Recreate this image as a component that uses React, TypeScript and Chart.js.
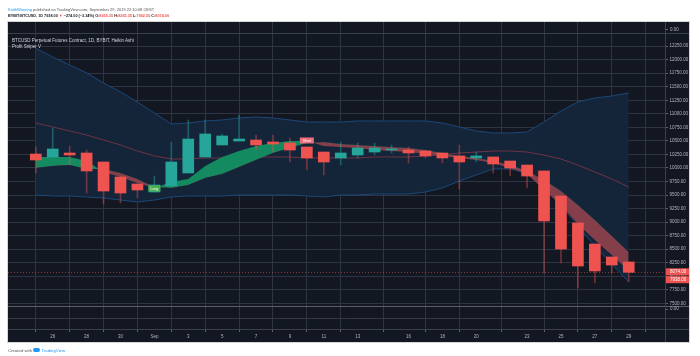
import React, { useEffect, useRef } from 'react';
import { Chart, registerables } from 'chart.js';

Chart.register(...registerables);

// ---- data (daily Heikin Ashi candles, BYBIT:BTCUSD) ----
const dates = [
  'Aug 25', 'Aug 26', 'Aug 27', 'Aug 28', 'Aug 29', 'Aug 30', 'Aug 31',
  'Sep 1', 'Sep 2', 'Sep 3', 'Sep 4', 'Sep 5', 'Sep 6', 'Sep 7', 'Sep 8',
  'Sep 9', 'Sep 10', 'Sep 11', 'Sep 12', 'Sep 13', 'Sep 14', 'Sep 15',
  'Sep 16', 'Sep 17', 'Sep 18', 'Sep 19', 'Sep 20', 'Sep 21', 'Sep 22',
  'Sep 23', 'Sep 24', 'Sep 25', 'Sep 26', 'Sep 27', 'Sep 28', 'Sep 29',
];
const opens = [
  10258, 10203, 10277, 10277, 10111, 9834, 9705, 9557, 9668, 9908, 10203, 10425,
  10498, 10517, 10480, 10462, 10388, 10295, 10185, 10240, 10295, 10332, 10332, 10314,
  10277, 10222, 10185, 10203, 10129, 10055, 9945, 9483, 8985, 8597, 8357, 8265.35,
];
const highs = [
  10388, 10738, 10406, 10332, 10111, 9834, 9705, 9852, 10480, 10886, 10886, 10628,
  10978, 10609, 10609, 10554, 10388, 10295, 10480, 10462, 10462, 10425, 10388, 10314,
  10277, 10425, 10295, 10203, 10129, 10055, 9945, 9483, 8985, 8597, 8357, 8265.35,
];
const lows = [
  9908, 10203, 10055, 9538, 9335, 9354, 9446, 9557, 9668, 9908, 10203, 10425,
  10498, 10332, 10295, 10111, 9963, 9871, 10055, 10185, 10240, 10277, 10092, 10185,
  10092, 9612, 10111, 9908, 9852, 9631, 8062, 8246, 7785, 7877, 8062, 7902.5,
];
const closes = [
  10148, 10351, 10240, 9945, 9575, 9538, 9594, 9686, 10111, 10535, 10628, 10591,
  10535, 10425, 10443, 10332, 10185, 10111, 10277, 10369, 10369, 10351, 10277, 10222,
  10185, 10111, 10222, 10074, 10000, 9852, 9022, 8505, 8191, 8099, 8209, 8074,
];
const bbUpper = [
  12210, 12049, 11901, 11754, 11569, 11403, 11218, 11015, 10812, 10831, 10868, 10886,
  10923, 10941, 10923, 10886, 10849, 10849, 10849, 10868, 10868, 10868, 10868, 10868,
  10831, 10757, 10683, 10646, 10646, 10665, 10849, 11052, 11218, 11292, 11329, 11385,
];
const bbBasis = [
  10831, 10757, 10683, 10609, 10517, 10425, 10314, 10222, 10166, 10166, 10185, 10185,
  10203, 10203, 10203, 10203, 10185, 10185, 10185, 10185, 10203, 10203, 10203, 10222,
  10240, 10277, 10295, 10314, 10314, 10295, 10240, 10166, 10055, 9926, 9797, 9649,
];
const bbLower = [
  9502, 9483, 9483, 9465, 9446, 9409, 9372, 9409, 9465, 9483, 9483, 9483,
  9502, 9502, 9502, 9502, 9483, 9465, 9502, 9502, 9520, 9520, 9520, 9557,
  9631, 9760, 9871, 9982, 9982, 9908, 9631, 9317, 8929, 8560, 8228, 7896,
];
const sniperFast = [
  10203, 10203, 10203, 10129, 9926, 9834, 9723, 9631, 9742, 9797, 10037, 10203,
  10314, 10406, 10462, 10498, 10498, 10406, 10388, 10369, 10332, 10314, 10295, 10258,
  10222, 10185, 10148, 10092, 10000, 9889, 9594, 9317, 8966, 8671, 8394, 8099,
];
const sniperSlow = [
  10000, 10037, 10055, 9982, 9982, 9908, 9797, 9649, 9631, 9686, 9815, 9889,
  10018, 10148, 10277, 10369, 10462, 10480, 10443, 10425, 10406, 10388, 10369, 10332,
  10277, 10222, 10185, 10129, 10055, 9945, 9778, 9575, 9317, 9040, 8745, 8449,
];
const tickDays = [1, 3, 5, 7, 9, 11, 13, 15, 17, 19, 22, 24, 26, 29, 31, 33, 35];
const tickLabels = ['26', '28', '30', 'Sep', '3', '5', '7', '9', '11', '13', '16', '18', '20', '23', '25', '27', '29'];
const priceTicks = [7500, 7750, 8000, 8250, 8500, 8750, 9000, 9250, 9500, 9750, 10000, 10250, 10500, 10750, 11000, 11250, 11500, 11750, 12000, 12250];
const lastClose = 8074.0;
const lastPrice = 7938.0;
const longDay = 7;
const shortDay = 16;

const FONT = 'Liberation Sans, Arial, sans-serif';
const RED = '#ef5350';
const TEAL = '#26a69a';
const BG = '#131722';
const GRID = '#2f3442';

const tvPlugin = {
  id: 'tvDecor',
  beforeDraw(chart: any) {
    const { ctx } = chart;
    ctx.save();
    ctx.fillStyle = '#ffffff';
    ctx.fillRect(0, 0, chart.width, chart.height);
    ctx.fillStyle = BG;
    ctx.fillRect(8, 22, 681, 320);
    ctx.restore();
  },
  beforeDatasetsDraw(chart: any) {
    const { ctx, chartArea, scales } = chart;
    const y = Math.round(scales.y.getPixelForValue(lastClose)) + 0.5;
    ctx.save();
    ctx.strokeStyle = 'rgba(239,83,80,0.5)';
    ctx.lineWidth = 1;
    ctx.setLineDash([1, 2]);
    ctx.beginPath();
    ctx.moveTo(chartArea.left, y);
    ctx.lineTo(chartArea.right, y);
    ctx.stroke();
    ctx.restore();
  },
  afterDatasetsDraw(chart: any) {
    const { ctx, scales } = chart;
    ctx.save();
    ctx.font = `3.4px ${FONT}`;
    ctx.textAlign = 'center';
    ctx.textBaseline = 'middle';
    // Long label
    let x = scales.x.getPixelForValue(longDay);
    let y = scales.y.getPixelForValue(lows[longDay]) - 3.5;
    ctx.fillStyle = '#4caf50';
    ctx.fillRect(x - 6, y - 3, 12, 6);
    ctx.fillStyle = '#ffffff';
    ctx.fillText('Long', x, y + 0.3);
    // Short label
    x = scales.x.getPixelForValue(shortDay);
    y = scales.y.getPixelForValue(highs[shortDay]) - 6.5;
    ctx.fillStyle = '#ee6e7c';
    ctx.fillRect(x - 7, y - 3, 14, 6);
    ctx.fillStyle = '#ffffff';
    ctx.fillText('Short', x, y + 0.3);
    ctx.restore();
  },
  afterDraw(chart: any) {
    const { ctx, chartArea, scales } = chart;
    ctx.save();
    ctx.lineWidth = 1;
    const hline = (yy: number, color: string, x2 = 689) => {
      ctx.strokeStyle = color;
      ctx.beginPath();
      ctx.moveTo(8, yy);
      ctx.lineTo(x2, yy);
      ctx.stroke();
    };
    hline(33.5, '#3a3f4d');
    hline(306.5, '#5a5e69');
    hline(318.5, '#363a47');
    hline(329.5, '#3a3f4d');
    // price axis separator
    ctx.strokeStyle = '#3a3f4d';
    ctx.beginPath();
    ctx.moveTo(chartArea.right + 0.5, 22);
    ctx.lineTo(chartArea.right + 0.5, 342);
    ctx.stroke();
    // pane "0.00" labels
    ctx.font = `4.5px ${FONT}`;
    ctx.fillStyle = '#b2b5be';
    ctx.textAlign = 'left';
    ctx.textBaseline = 'middle';
    ctx.fillText('0.00', chartArea.right + 5, 29.5);
    ctx.fillText('0.00', chartArea.right + 5, 309);
    ctx.strokeStyle = '#5d606b';
    ctx.beginPath();
    ctx.moveTo(chartArea.right, 29.5);
    ctx.lineTo(chartArea.right + 3, 29.5);
    ctx.moveTo(chartArea.right, 309.5);
    ctx.lineTo(chartArea.right + 3, 309.5);
    ctx.stroke();
    // last price boxes
    const box = (val: number, dy: number) => {
      const yy = scales.y.getPixelForValue(val) + dy;
      ctx.fillStyle = RED;
      ctx.fillRect(chartArea.right + 1, yy - 3.5, 23, 7);
      ctx.fillStyle = '#ffffff';
      ctx.textAlign = 'left';
      ctx.fillText(val.toFixed(2), chartArea.right + 5, yy + 0.2);
    };
    box(lastClose, -0.5);
    box(lastPrice, 0);
    // outer border of the chart box
    ctx.strokeStyle = '#d6d6d6';
    ctx.strokeRect(7.5, 21.5, 682, 321);
    ctx.restore();
  },
};

export default function App() {
  const canvasRef = useRef<HTMLCanvasElement | null>(null);

  useEffect(() => {
    const canvas = canvasRef.current;
    if (!canvas) return;
    const idx = dates.map((_, i) => i);
    const isUp = (i: number) => closes[i] >= opens[i];

    const chart = new Chart(canvas, {
      type: 'bar',
      data: {
        datasets: [
          {
            type: 'bar',
            label: 'Bodies',
            data: idx.map((i) => ({ x: i, y: [opens[i], closes[i]] })) as any,
            backgroundColor: idx.map((i) => (isUp(i) ? TEAL : RED)),
            borderWidth: 0,
            barThickness: 11,
            minBarLength: 1,
            grouped: false,
            order: 1,
          } as any,
          {
            type: 'bar',
            label: 'Wicks',
            data: idx.map((i) => ({ x: i, y: [lows[i], highs[i]] })) as any,
            backgroundColor: idx.map((i) => (isUp(i) ? 'rgba(38,166,154,0.45)' : 'rgba(239,83,80,0.42)')),
            borderWidth: 0,
            barThickness: 1,
            grouped: false,
            order: 2,
          } as any,
          {
            type: 'line',
            label: 'Sniper fast',
            data: idx.map((i) => ({ x: i, y: sniperFast[i] })),
            borderColor: 'rgba(0,0,0,0)',
            borderWidth: 0,
            pointRadius: 0,
            fill: { target: '+1', above: '#138a5f', below: '#843f4a' },
            order: 6,
          } as any,
          {
            type: 'line',
            label: 'Sniper slow',
            data: idx.map((i) => ({ x: i, y: sniperSlow[i] })),
            borderColor: 'rgba(0,0,0,0)',
            borderWidth: 0,
            pointRadius: 0,
            fill: false,
            order: 7,
          } as any,
          {
            type: 'line',
            label: 'Basis',
            data: idx.map((i) => ({ x: i, y: bbBasis[i] })),
            borderColor: '#6e3447',
            borderWidth: 1,
            pointRadius: 0,
            fill: false,
            order: 8,
          } as any,
          {
            type: 'line',
            label: 'Upper',
            data: idx.map((i) => ({ x: i, y: bbUpper[i] })),
            borderColor: '#1b4878',
            borderWidth: 1,
            pointRadius: 0,
            fill: { target: '+1', above: '#142439', below: '#142439' },
            order: 10,
          } as any,
          {
            type: 'line',
            label: 'Lower',
            data: idx.map((i) => ({ x: i, y: bbLower[i] })),
            borderColor: '#1b4878',
            borderWidth: 1,
            pointRadius: 0,
            fill: false,
            order: 9,
          } as any,
        ],
      },
      options: {
        animation: false,
        responsive: false,
        maintainAspectRatio: false,
        devicePixelRatio: 1,
        layout: { padding: { left: 8, right: 11, top: 22, bottom: 14 } },
        plugins: { legend: { display: false }, tooltip: { enabled: false }, title: { display: false } },
        scales: {
          x: {
            type: 'linear',
            min: -0.5,
            max: 36,
            afterBuildTicks: (s: any) => {
              s.ticks = tickDays.map((v) => ({ value: v }));
            },
            afterFit: (s: any) => {
              s.height = 13;
            },
            ticks: {
              autoSkip: false,
              maxRotation: 0,
              padding: 2,
              color: '#b2b5be',
              font: { size: 4.5, family: FONT },
              callback: (_v: any, i: number) => tickLabels[i],
            },
            grid: { color: GRID, tickLength: 3, tickColor: '#5d606b' },
            border: { display: false },
          },
          y: {
            type: 'linear',
            position: 'right',
            min: 7028,
            max: 12695,
            afterBuildTicks: (s: any) => {
              s.ticks = priceTicks.map((v) => ({ value: v }));
            },
            afterFit: (s: any) => {
              s.width = 24;
            },
            ticks: {
              autoSkip: false,
              padding: 1.5,
              color: '#b2b5be',
              font: { size: 4.5, family: FONT },
              callback: (v: any) => Number(v).toFixed(2),
            },
            grid: { color: GRID, tickLength: 3, tickColor: '#5d606b' },
            border: { display: false },
          },
        },
      } as any,
      plugins: [tvPlugin],
    });
    return () => chart.destroy();
  }, []);

  const small: React.CSSProperties = { position: 'absolute', whiteSpace: 'nowrap', fontFamily: FONT, lineHeight: '5px' };
  return (
    <div style={{ position: 'fixed', left: 0, top: 0, width: 700, height: 356, background: '#ffffff', overflow: 'hidden' }}>
      <canvas ref={canvasRef} width={700} height={356} style={{ position: 'absolute', left: 0, top: 0, width: 700, height: 356 }} />
      <div style={{ ...small, left: 8, top: 7, fontSize: 4, color: '#555' }}>
        <span style={{ color: '#2196f3' }}>KeithWareing</span> published on TradingView.com, September 29, 2019 22:10:08 CEST
      </div>
      <div style={{ ...small, left: 8, top: 13.5, fontSize: 3.8, color: '#131722', fontWeight: 'bold' }}>
        BYBIT:BTCUSD, 1D 7938.00 <span style={{ color: RED }}>▼</span> −274.00 (−3.34%) O:<span style={{ color: RED }}>8265.35</span> H:<span style={{ color: RED }}>8265.35</span> L:<span style={{ color: RED }}>7902.50</span> C:<span style={{ color: RED }}>8074.00</span>
      </div>
      <div style={{ ...small, left: 12, top: 37.5, fontSize: 4.5, color: '#d1d4dc' }}>
        BTCUSD Perpetual Futures Contract, 1D, BYBIT, Heikin Ashi
      </div>
      <div style={{ ...small, left: 12, top: 44.2, fontSize: 4.5, color: '#d1d4dc' }}>Profit Sniper V</div>
      <div style={{ ...small, left: 8, top: 347.5, fontSize: 4.3, color: '#555' }}>
        Created with{' '}
        <span style={{ display: 'inline-block', width: 7, height: 4, borderRadius: 2, background: '#2196f3', verticalAlign: 'middle' }} />{' '}
        <span style={{ color: '#2196f3' }}>TradingView</span>
      </div>
    </div>
  );
}
